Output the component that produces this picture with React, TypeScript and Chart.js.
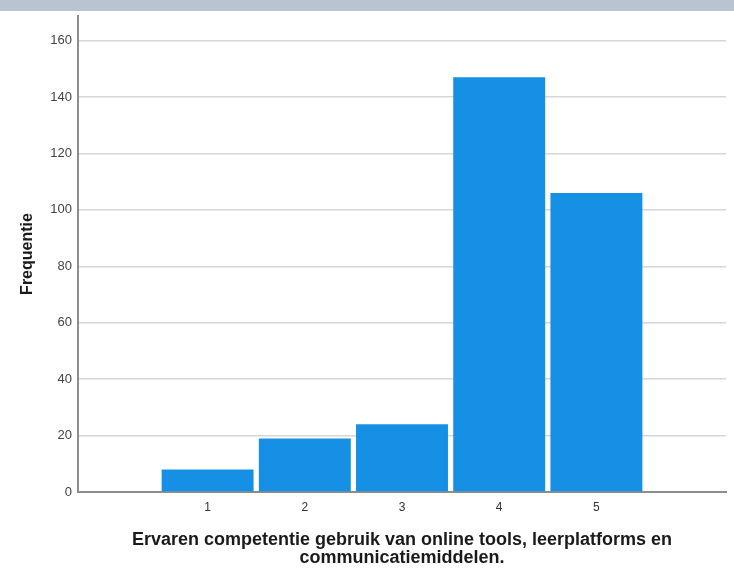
import React, { useEffect, useRef } from "react";
import { Chart, registerables } from "chart.js";

Chart.register(...registerables);

const categories = [1, 2, 3, 4, 5];
const frequencies = [8, 19, 24, 147, 106];
const yTicks = [0, 20, 40, 60, 80, 100, 120, 140, 160];
const xTitle = [
  "Ervaren competentie gebruik van online tools, leerplatforms en",
  "communicatiemiddelen.",
];
const yTitle = "Frequentie";

const FONT = "'Liberation Sans', Arial, sans-serif";

export default function App() {
  const ref = useRef<HTMLCanvasElement | null>(null);

  useEffect(() => {
    if (!ref.current) return;
    const chart = new Chart(ref.current, {
      type: "bar",
      data: {
        datasets: [
          {
            data: categories.map((c, i) => ({ x: c, y: frequencies[i] })),
            backgroundColor: "#1690e4",
            borderWidth: 0,
            categoryPercentage: 1,
            barPercentage: 0.946,
          },
        ],
      },
      options: {
        animation: false,
        responsive: false,
        layout: { padding: { top: 16, right: 8, bottom: 0, left: 0 } },
        plugins: { legend: { display: false }, tooltip: { enabled: false } },
        scales: {
          x: {
            type: "linear",
            offset: false,
            min: -1 / 3,
            max: 19 / 3,
            afterFit: (s: any) => {
              s.height = 77;
            },
            afterBuildTicks: (s: any) => {
              s.ticks = categories.map((v) => ({ value: v }));
            },
            grid: { drawOnChartArea: false, drawTicks: false },
            border: { display: true, color: "#8c8c8c", width: 2 },
            ticks: {
              padding: 8,
              color: "#333",
              font: { family: FONT, size: 12 },
              callback: (v: any) => String(v),
            },
            title: {
              display: true,
              text: xTitle,
              color: "#1a1a1a",
              font: { family: FONT, size: 18, weight: "bold", lineHeight: 1.0 },
              padding: { top: 0, bottom: 2 },
            },
          },
          y: {
            min: 0,
            max: 168.7,
            afterFit: (s: any) => {
              s.width = 78;
            },
            afterBuildTicks: (s: any) => {
              s.ticks = yTicks.map((v) => ({ value: v }));
            },
            grid: { color: "#d6d6d6", lineWidth: 1.5, drawTicks: false },
            border: { display: true, color: "#8c8c8c", width: 2 },
            ticks: {
              padding: 6,
              color: "#444",
              font: { family: FONT, size: 13 },
            },
            title: {
              display: true,
              text: yTitle,
              color: "#1a1a1a",
              font: { family: FONT, size: 16, weight: "bold", lineHeight: 1.2 },
              padding: { top: 18, bottom: 0 },
            },
          },
        },
      },
    });
    return () => chart.destroy();
  }, []);

  return (
    <div style={{ position: "fixed", left: 0, top: 0, width: 734, height: 569, background: "#fff" }}>
      <canvas ref={ref} width={734} height={569} style={{ position: "absolute", left: 0, top: 0 }} />
      <div
        style={{
          position: "absolute",
          left: 0,
          top: 0,
          width: 734,
          height: 11,
          background: "#b8c4d1",
        }}
      />
    </div>
  );
}
